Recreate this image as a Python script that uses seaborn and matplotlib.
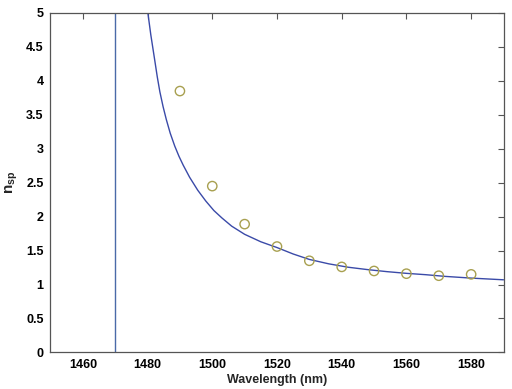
import matplotlib
matplotlib.use("Agg")
import matplotlib.pyplot as plt
import seaborn as sns
import pandas as pd

# measured points (circles)
meas_wl = [1490, 1500, 1510, 1520, 1530, 1540, 1550, 1560, 1570, 1580]
meas_nsp = [3.85, 2.45, 1.89, 1.56, 1.35, 1.26, 1.20, 1.16, 1.13, 1.15]

# theory curve
curve_wl = [1479.7, 1480.1, 1481.0, 1482.2, 1483.0, 1483.8, 1484.8, 1485.8, 1487.0,
            1488.4, 1489.7, 1491.0, 1493.0, 1495.5, 1498.0, 1500.5, 1503.0, 1506.0,
            1510.0, 1515.0, 1520.0, 1525.0, 1530.0, 1536.0, 1542.0, 1548.0, 1554.0,
            1560.0, 1566.0, 1572.0, 1580.0, 1590.0]
curve_nsp = [5.2, 5.0, 4.68, 4.31, 4.06, 3.84, 3.62, 3.43, 3.23,
             3.04, 2.89, 2.76, 2.58, 2.39, 2.23, 2.09, 1.98, 1.86,
             1.74, 1.63, 1.545, 1.45, 1.37, 1.305, 1.255, 1.22, 1.19,
             1.165, 1.145, 1.12, 1.095, 1.07]

# vertical asymptote branch at 1470 nm
vert_wl = [1470, 1470]
vert_nsp = [-1, 6]

sns.set_theme(style="white")
plt.rcParams["font.family"] = ["Liberation Sans", "DejaVu Sans"]
plt.rcParams["mathtext.fontset"] = "custom"
plt.rcParams["mathtext.rm"] = "Liberation Sans:bold"
plt.rcParams["mathtext.it"] = "Liberation Sans:bold"
plt.rcParams["mathtext.bf"] = "Liberation Sans:bold"

fig = plt.figure(figsize=(5.12, 3.89), dpi=100)
ax = fig.add_axes([0.0986, 0.094, 0.8848, 0.8726])

line_color = "#3a4aa8"
curve = pd.DataFrame({"wl": curve_wl, "nsp": curve_nsp})
vert = pd.DataFrame({"wl": vert_wl, "nsp": vert_nsp})
meas = pd.DataFrame({"wl": meas_wl, "nsp": meas_nsp})

sns.lineplot(data=vert, x="wl", y="nsp", ax=ax, color="#4a6aa8", lw=1.0,
             estimator=None, sort=False)
sns.lineplot(data=curve, x="wl", y="nsp", ax=ax, color=line_color, lw=1.0,
             estimator=None, sort=False)
sns.scatterplot(data=meas, x="wl", y="nsp", ax=ax, marker="o", s=45,
                facecolor="none", edgecolor="#a8a050", linewidth=1.0, zorder=3)

ax.set_xlim(1450, 1590)
ax.set_ylim(0, 5)
ax.set_xticks([1460, 1480, 1500, 1520, 1540, 1560, 1580])
ax.set_yticks([0, 0.5, 1, 1.5, 2, 2.5, 3, 3.5, 4, 4.5, 5])
ax.set_yticklabels(["0", "0.5", "1", "1.5", "2", "2.5", "3", "3.5", "4", "4.5", "5"])

ax.tick_params(direction="in", length=4, width=0.8, top=True, right=True,
               labelsize=9, colors="#555555", labelcolor="black", pad=5)
for lab in ax.get_xticklabels() + ax.get_yticklabels():
    lab.set_fontweight("bold")
for sp in ax.spines.values():
    sp.set_color("#555555")
    sp.set_linewidth(0.9)

ax.set_xlabel("Wavelength (nm)", fontsize=9, fontweight="bold", labelpad=2)
ax.set_ylabel(r"n$_{\mathrm{sp}}$", fontsize=11, fontweight="bold", labelpad=4)

fig.savefig("out.png", dpi=100)
